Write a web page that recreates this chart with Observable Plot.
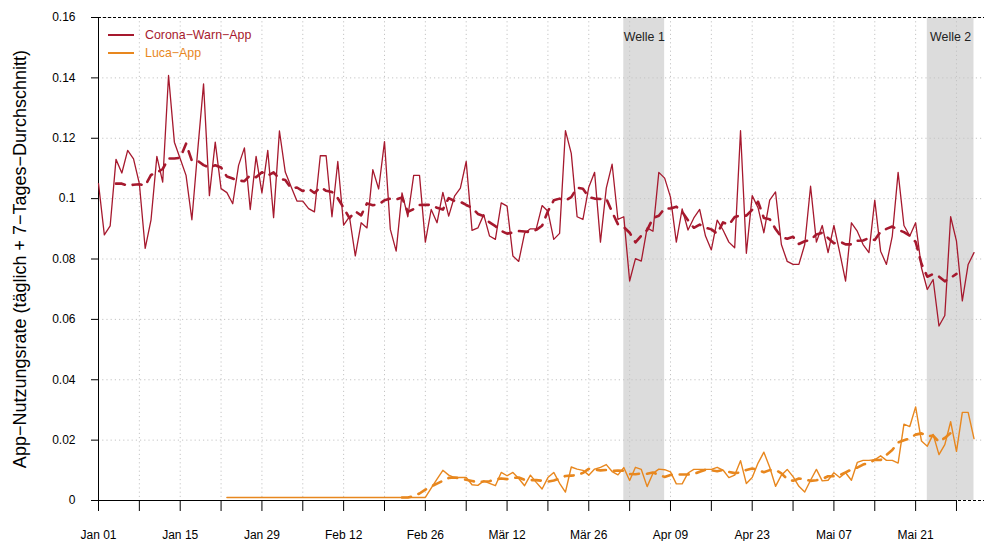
<!DOCTYPE html>
<html><head><meta charset="utf-8">
<script src="https://cdn.jsdelivr.net/npm/d3@7"></script>
<script src="https://cdn.jsdelivr.net/npm/@observablehq/plot@0.6"></script>
<style>
body{margin:0;background:#fff;font-family:"Liberation Sans",Arial,sans-serif}
#wrap{position:relative;width:984px;height:541px}
#legend{position:absolute;left:108px;top:25.5px;font-size:12.4px;z-index:2}
.row{display:flex;align-items:center;height:18.5px}
.sw{width:26px;height:2.3px;margin-right:11px}
</style></head><body><div id="wrap"><div id="legend"></div></div>
<script>
const startDate = "2021-01-01";
const seriesNames = ["Corona−Warn−App", "Luca−App"];
const seriesColors = ["#a6192e", "#e8871e"];
const yTitle = "App−Nutzungsrate (täglich + 7−Tages−Durchschnitt)";
const monthNames = ["Jan","Feb","Mär","Apr","Mai","Jun"];
const yTicks = [0, 0.02, 0.04, 0.06, 0.08, 0.10, 0.12, 0.14, 0.16];
const waveLabels = ["Welle 1", "Welle 2"];
const waveStart = ["2021-04-01", "2021-05-23"];
const waveEnd = ["2021-04-08", "2021-05-31"];

// daily values, Jan 01 .. May 31
const cwaRate = [
0.105,0.088,0.091,0.113,0.1085,0.116,0.1132,0.105,0.0835,0.093,
0.114,0.1055,0.1408,0.1187,0.1132,0.1077,0.093,0.116,0.138,0.101,
0.1187,0.1033,0.102,0.0983,0.111,0.1168,0.0964,0.114,0.1019,0.116,
0.0937,0.1224,0.1088,0.1039,0.0992,0.0992,0.0967,0.0956,0.1142,0.1142,
0.094,0.1123,0.0912,0.094,0.081,0.092,0.0903,0.1096,0.1032,0.1189,
0.0898,0.0826,0.1019,0.094,0.1077,0.1077,0.0856,0.0964,0.092,0.1021,
0.0942,0.1008,0.1035,0.1123,0.0895,0.0903,0.0947,0.0876,0.0865,0.0986,
0.0975,0.081,0.0792,0.0885,0.09,0.09,0.0977,0.0958,0.0865,0.0885,
0.1225,0.115,0.094,0.0931,0.1038,0.1087,0.0856,0.1035,0.1114,0.0931,
0.094,0.0727,0.0801,0.0793,0.0903,0.0892,0.1087,0.1068,0.1005,0.0856,
0.0966,0.0896,0.0936,0.0964,0.0876,0.083,0.0929,0.0896,0.0856,0.0837,
0.1225,0.0819,0.101,0.097,0.0887,0.0995,0.1022,0.0848,0.0792,0.0782,
0.0782,0.0848,0.1041,0.0856,0.0911,0.0821,0.0911,0.0821,0.0727,0.092,
0.0892,0.0848,0.0821,0.0995,0.0826,0.0782,0.0876,0.1087,0.0911,0.0876,
0.092,0.0771,0.0699,0.0732,0.0578,0.0613,0.094,0.0859,0.0661,0.0782,
0.0821];

const lucaRate = [
null,null,null,null,null,null,null,null,null,null,
null,null,null,null,null,null,null,null,null,null,
null,null,0.001,null,null,null,null,null,null,null,
null,null,null,null,null,null,null,null,null,null,
null,null,null,null,null,null,null,null,null,null,
0.001,0.001,0.001,0.001,0.001,0.001,0.001,0.0041,0.0071,0.0100,
0.0084,0.0076,0.0076,0.0076,0.0052,0.005,0.0065,0.0057,0.0049,0.0093,
0.0082,0.0093,0.0073,0.0049,0.0084,0.006,0.0038,0.0076,0.0093,0.0057,
0.0028,0.0111,0.0104,0.01,0.0084,0.0104,0.011,0.0119,0.0096,0.0085,
0.0109,0.0066,0.011,0.0103,0.0046,0.009,0.0104,0.0102,0.0095,0.0055,
0.0055,0.0091,0.0103,0.0103,0.0103,0.0103,0.011,0.0101,0.0076,0.0084,
0.0132,0.0056,0.0076,0.0124,0.016,0.011,0.0047,0.0084,0.0103,0.0079,
0.0047,0.0028,0.0067,0.0103,0.0065,0.0067,0.0092,0.0076,0.0092,0.0067,
0.0126,0.0133,0.0133,0.0135,0.0148,0.0133,0.0133,0.0124,0.0253,0.0245,
0.031,0.0197,0.018,0.0219,0.0152,0.0185,0.0261,0.0163,0.0292,0.0292,
0.0205];

const parse = d3.utcParse("%Y-%m-%d");
const t0 = parse(startDate);
const dayOf = i => d3.utcDay.offset(t0, i);
const cwa = cwaRate.map((v, i) => ({date: dayOf(i), value: v}));
const luca = lucaRate.map((v, i) => ({date: dayOf(i), value: v})).filter(d => d.value != null);
const waves = waveLabels.map((l, i) => ({label: l, start: parse(waveStart[i]), end: parse(waveEnd[i]),
  mid: new Date((+parse(waveStart[i]) + +parse(waveEnd[i])) / 2)}));

const xTicks = d3.utcDay.range(t0, parse("2021-05-29"), 7);
const xEnd = new Date(+t0 + 151.8 * 864e5);
const fmtX = d => (Math.round(d3.utcDay.count(t0, d) / 7) % 2) ? "" :
  monthNames[d.getUTCMonth()] + " " + String(d.getUTCDate()).padStart(2, "0");

const dashedMean = (data, color) => Plot.line(data, Plot.windowY(
  {k: 7, anchor: "middle", strict: true},
  {x: "date", y: "value", stroke: color, strokeWidth: 2.6, strokeDasharray: "9,8", strokeLinecap: "round"}));

const chart = Plot.plot({
  width: 984, height: 541,
  marginLeft: 98, marginRight: 0, marginTop: 17, marginBottom: 41,
  style: {fontFamily: "'Liberation Sans', Arial, sans-serif", fontSize: "12px", background: "white", color: "black", overflow: "visible"},
  x: {type: "utc", domain: [t0, xEnd]},
  y: {domain: [0, 0.16]},
  marks: [
    Plot.rect(waves, {x1: "start", x2: "end", fill: "#dcdcdc"}),
    Plot.gridX(xTicks, {stroke: "#c4c4c4", strokeOpacity: 1, strokeDasharray: "1.2,3"}),
    Plot.gridY(yTicks.slice(1), {stroke: "#c4c4c4", strokeOpacity: 1, strokeDasharray: "1.2,3"}),
    Plot.ruleY([0, 0.16], {stroke: "black", strokeDasharray: "3,2"}),
    Plot.ruleY([{y: 0, a: xTicks[0], b: xTicks[xTicks.length - 1]}], {y: "y", x1: "a", x2: "b", stroke: "black"}),
    Plot.ruleX([{x: t0, a: 0, b: 0.16}], {x: "x", y1: "a", y2: "b", stroke: "black"}),
    Plot.axisX(xTicks, {anchor: "bottom", tickSize: 11, tickPadding: 19, tickFormat: fmtX, fontSize: 12}),
    Plot.axisY(yTicks, {anchor: "left", tickSize: 7, tickPadding: 16, tickFormat: d => d === 0 ? "0" : String(d), fontSize: 12}),
    Plot.text([yTitle], {frameAnchor: "left", dx: -78, rotate: -90, textAnchor: "middle", fontSize: 18, fill: "black"}),
    Plot.text(waves, {x: "mid", text: "label", frameAnchor: "top", dy: 15, fontSize: 12.4, fill: "#222"}),
    Plot.line(luca, {x: "date", y: "value", stroke: seriesColors[1], strokeWidth: 1.4}),
    dashedMean(luca, seriesColors[1]),
    Plot.line(cwa, {x: "date", y: "value", stroke: seriesColors[0], strokeWidth: 1.3}),
    dashedMean(cwa, seriesColors[0])
  ]
});
const wrap = document.getElementById("wrap");
wrap.appendChild(chart);
const legend = document.getElementById("legend");
seriesNames.forEach((n, i) => {
  const row = document.createElement("div");
  row.className = "row";
  row.innerHTML = `<span class="sw" style="background:${seriesColors[i]}"></span><span style="color:${seriesColors[i]}">${n}</span>`;
  legend.appendChild(row);
});
</script></body></html>
